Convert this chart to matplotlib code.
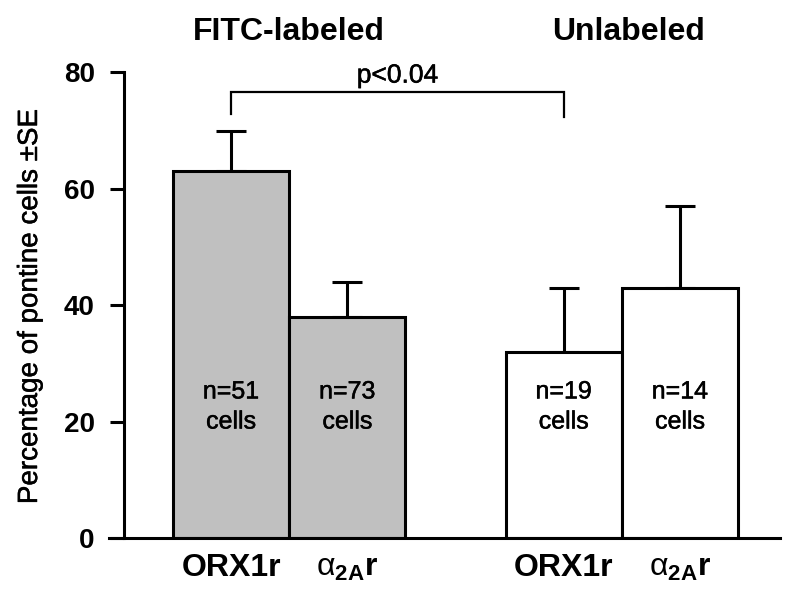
import matplotlib
matplotlib.use("Agg")
import matplotlib.pyplot as plt
import matplotlib.transforms as mtransforms
import matplotlib.patheffects as pe

plt.rcParams["font.family"] = ["Liberation Sans", "DejaVu Sans"]
plt.rcParams["mathtext.fontset"] = "custom"
plt.rcParams["mathtext.rm"] = "Liberation Sans"
plt.rcParams["mathtext.bf"] = "Liberation Sans:bold"
plt.rcParams["mathtext.it"] = "Liberation Sans:italic"

# data
groups     = ["FITC-labeled", "Unlabeled"]
receptors  = ["ORX1r", r"$\mathrm{\alpha}_{\mathbf{2A}}\mathbf{r}$",
              "ORX1r", r"$\mathrm{\alpha}_{\mathbf{2A}}\mathbf{r}$"]
pct        = [63, 38, 32, 43]
se         = [7, 6, 11, 14]
n_cells    = [51, 73, 19, 14]
bar_colors = ["#c0c0c0", "#c0c0c0", "#ffffff", "#ffffff"]
p_text     = "p<0.04"

xpos = [0, 1, 2.86, 3.86]
LW = 2.2
semi = [pe.withStroke(linewidth=0.35, foreground="black")]

fig = plt.figure(figsize=(8, 5.93), dpi=100, facecolor="white")
ax = fig.add_axes([109 / 800, 1 - 538 / 593, (780 - 109) / 800, (538 - 72.5) / 593])

ax.bar(xpos, pct, width=1.0, color=bar_colors, edgecolor="black",
       linewidth=LW, zorder=3)
ax.errorbar(xpos, pct, yerr=[[0] * 4, se], fmt="none", ecolor="black",
            elinewidth=LW, capsize=10.5, capthick=LW, zorder=2)

for x, n in zip(xpos, n_cells):
    ax.text(x, 22.6, f"n={n}\ncells", ha="center", va="center",
            fontsize=18, linespacing=1.32, zorder=4, path_effects=semi)

# significance bracket
bx0, bx1 = xpos[0], xpos[2]
ax.plot([bx0, bx0, bx1, bx1], [72.8, 76.6, 76.6, 72.3], color="black",
        linewidth=1.6, clip_on=False, solid_joinstyle="miter")
ax.text((bx0 + bx1) / 2, 77.4, p_text, ha="center", va="bottom",
        fontsize=19, path_effects=semi)

# group headings
trans = mtransforms.blended_transform_factory(ax.transData, fig.transFigure)
ax.text((xpos[0] + xpos[1]) / 2, 1 - 32 / 593, groups[0], transform=trans,
        ha="center", va="center", fontsize=23, fontweight="bold")
ax.text((xpos[2] + xpos[3]) / 2 + 0.06, 1 - 32 / 593, groups[1], transform=trans,
        ha="center", va="center", fontsize=23, fontweight="bold")

ax.set_xlim(-1.049, 4.72)
ax.set_ylim(0, 80)
ax.set_yticks([0, 20, 40, 60, 80])
ax.set_xticks(xpos)
ax.set_xticklabels(receptors, fontsize=23, fontweight="bold")

for sp in ["top", "right"]:
    ax.spines[sp].set_visible(False)
ax.spines["left"].set_position(("data", -0.92))
ax.spines["left"].set_linewidth(LW)
ax.spines["bottom"].set_linewidth(LW)
ax.spines["bottom"].set_zorder(5)

ax.tick_params(axis="y", direction="out", length=10, width=LW, pad=11,
               labelsize=20)
for lbl in ax.get_yticklabels():
    lbl.set_fontweight("bold")
ax.tick_params(axis="x", length=0, pad=11)

fig.text(30 / 800, 1 - 307 / 593, "Percentage of pontine cells \u00b1SE",
         rotation=90, ha="center", va="center", fontsize=20,
         path_effects=semi)

plt.savefig("out.png", dpi=100, facecolor="white")
